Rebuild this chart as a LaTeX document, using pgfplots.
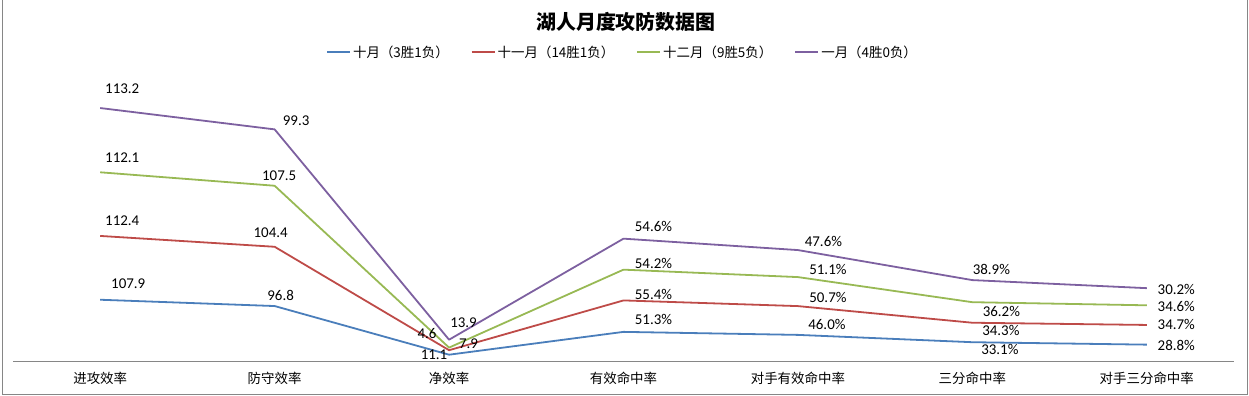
\documentclass[border=0pt]{standalone}
\usepackage{fontspec}
\setmainfont{Carlito}
\newfontfamily\cjk{Noto Sans CJK SC}
\usepackage{pgfplots}
\usepackage{pgfplotstable}
\pgfplotsset{compat=1.18}
\definecolor{cA}{HTML}{4A7EBB}
\definecolor{cB}{HTML}{BE4B48}
\definecolor{cC}{HTML}{98B954}
\definecolor{cD}{HTML}{7D60A0}
\definecolor{framegray}{HTML}{868686}

\pgfplotstableread{
x y lab dx dy
0 107.9 107.9 28 16
1 96.8 96.8 6 11
2 11.1 11.1 -15 0
3 51.3 51.3\% 30 12.5
4 46.0 46.0\% 29 10
5 33.1 33.1\% 27.5 -7
6 28.8 28.8\% 29.5 -1
}\tabOct
\pgfplotstableread{
x y lab dx dy
0 112.4 112.4 22 15
1 104.4 104.4 -4 14
2 7.9 7.9 19.5 7
3 55.4 55.4\% 30 6
4 50.7 50.7\% 30 9
5 34.3 34.3\% 28.5 -8
6 34.7 34.7\% 29.5 0
}\tabNov
\pgfplotstableread{
x y lab dx dy
0 112.1 112.1 22 14.5
1 107.5 107.5 4.5 10
2 4.6 4.6 -22 14.5
3 54.2 54.2\% 30 6
4 51.1 51.1\% 30 8
5 36.2 36.2\% 29 -9.5
6 34.6 34.6\% 29.5 -1
}\tabDec
\pgfplotstableread{
x y lab dx dy
0 113.2 113.2 22 19
1 99.3 99.3 21.5 8.5
2 13.9 13.9 14.5 17
3 54.6 54.6\% 30 12.5
4 47.6 47.6\% 25.5 8.5
5 38.9 38.9\% 19 10.7
6 30.2 30.2\% 29.5 -1
}\tabJan

\begin{document}
\begin{tikzpicture}
\path[use as bounding box] (0,0) rectangle (1249bp,396bp);
\draw[framegray, line width=1bp] (2.5bp,400bp) -- (2.5bp,1.5bp) -- (1247bp,1.5bp) -- (1247bp,400bp);
\begin{axis}[
  at={(13bp,35bp)}, anchor=south west,
  scale only axis, width=1221bp, height=281bp,
  xmin=-0.5, xmax=6.5, ymin=0, ymax=495,
  clip=false,
  axis y line=none,
  axis x line*=bottom,
  x axis line style={draw=framegray, line width=0.8bp, -},
  xtick={0,...,6},
  xticklabels={进攻效率,防守效率,净效率,有效命中率,对手有效命中率,三分命中率,对手三分命中率},
  xtick style={draw=none},
  ytick=\empty,
  xticklabel style={anchor=center, yshift=-17bp, font=\cjk\fontsize{13.5}{16}\selectfont, inner sep=0pt},
  title={湖人月度攻防数据图},
  title style={at={(0.502,1.186)}, anchor=center, font=\cjk\bfseries\fontsize{20}{24}\selectfont},
  legend columns=4,
  legend style={at={(0.4992,1.0996)}, anchor=center, draw=none, fill=none,
    font=\cjk\fontsize{13.5}{16}\selectfont,
    /tikz/every even column/.append style={column sep=20bp}},
  legend image code/.code={\draw[#1, line width=2bp] (0bp,0bp) -- (23bp,0bp);},
  stack plots=y,
  every axis plot/.append style={line width=1.8bp, line join=round},
  no markers,
  nodes near coords,
  point meta=explicit symbolic,
  visualization depends on={\thisrow{dx}\as\dx},
  visualization depends on={\thisrow{dy}\as\dy},
  nodes near coords style={anchor=center, inner sep=0pt, xshift=\dx bp, yshift=\dy bp,
    font=\fontsize{15}{18}\selectfont, text=black},
]
\addplot[cA] table[x=x, y=y, meta=lab] {\tabOct};
\addplot[cB] table[x=x, y=y, meta=lab] {\tabNov};
\addplot[cC] table[x=x, y=y, meta=lab] {\tabDec};
\addplot[cD] table[x=x, y=y, meta=lab] {\tabJan};
\legend{十月（3胜1负）,十一月（14胜1负）,十二月（9胜5负）,一月（4胜0负）}
\end{axis}
\end{tikzpicture}
\end{document}
